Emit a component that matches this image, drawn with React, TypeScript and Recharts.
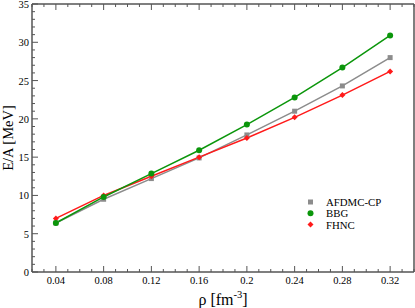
import React from 'react';
import { LineChart, Line, XAxis, YAxis, Legend } from 'recharts';

// density points (fm^-3) and energy per nucleon (MeV)
const density = [0.04, 0.08, 0.12, 0.16, 0.2, 0.24, 0.28, 0.32];
const afdmcCP = [6.4, 9.5, 12.2, 14.9, 17.9, 21.0, 24.3, 28.0];
const bbg = [6.4, 9.8, 12.85, 15.9, 19.25, 22.8, 26.7, 30.9];
const fhnc = [7.0, 10.0, 12.5, 15.0, 17.5, 20.2, 23.1, 26.2];

const xTicks = [
  0.02, 0.03, 0.04, 0.05, 0.06, 0.07, 0.08, 0.09, 0.1, 0.11, 0.12, 0.13, 0.14, 0.15, 0.16, 0.17, 0.18,
  0.19, 0.2, 0.21, 0.22, 0.23, 0.24, 0.25, 0.26, 0.27, 0.28, 0.29, 0.3, 0.31, 0.32, 0.33, 0.34,
];
const yTicks = [
  0, 1, 2, 3, 4, 5, 6, 7, 8, 9, 10, 11, 12, 13, 14, 15, 16, 17, 18, 19, 20, 21, 22, 23, 24, 25, 26,
  27, 28, 29, 30, 31, 32, 33, 34, 35,
];

const rows = density.map((rho, i) => ({ rho, afdmc: afdmcCP[i], bbg: bbg[i], fhnc: fhnc[i] }));

const AXIS = '#555';
const FONT = '"Liberation Serif", "DejaVu Serif", serif';
const GRAY = '#8c8c8c';
const GREEN = '#0b960b';
const RED = '#ff1a1a';

const isMajorX = (v: number) => Math.round(v * 100) % 4 === 0;
const isMajorY = (v: number) => v % 5 === 0;

const BottomTick = (p: any) => {
  const v = p.payload.value;
  const major = isMajorX(v);
  return (
    <g>
      <line x1={p.x} x2={p.x} y1={p.y} y2={p.y - (major ? 6 : 3)} stroke={AXIS} strokeWidth={1} />
      {major && (
        <text x={p.x} y={p.y + 12} textAnchor="middle" style={{ fontSize: 10.5, fontFamily: FONT }} fill="#000">
          {String(v)}
        </text>
      )}
    </g>
  );
};

const TopTick = (p: any) => {
  const major = isMajorX(p.payload.value);
  return <line x1={p.x} x2={p.x} y1={p.y} y2={p.y + (major ? 6 : 3)} stroke={AXIS} strokeWidth={1} />;
};

const LeftTick = (p: any) => {
  const v = p.payload.value;
  const major = isMajorY(v);
  return (
    <g>
      <line x1={p.x} x2={p.x + (major ? 6 : 3)} y1={p.y} y2={p.y} stroke={AXIS} strokeWidth={1} />
      {major && (
        <text x={p.x - 3} y={p.y + 4} textAnchor="end" style={{ fontSize: 10.5, fontFamily: FONT }} fill="#000">
          {v}
        </text>
      )}
    </g>
  );
};

const RightTick = (p: any) => {
  const major = isMajorY(p.payload.value);
  return <line x1={p.x} x2={p.x - (major ? 6 : 3)} y1={p.y} y2={p.y} stroke={AXIS} strokeWidth={1} />;
};

const SquareDot = (p: any) => <rect key={p.index} x={p.cx - 2.5} y={p.cy - 2.5} width={5} height={5} fill={GRAY} />;
const CircleDot = (p: any) => <circle key={p.index} cx={p.cx} cy={p.cy} r={3} fill={GREEN} />;
const DiamondDot = (p: any) => (
  <path key={p.index} d={`M${p.cx},${p.cy - 3}L${p.cx + 3},${p.cy}L${p.cx},${p.cy + 3}L${p.cx - 3},${p.cy}Z`} fill={RED} />
);

const legendItems = [
  { name: 'AFDMC-CP', color: GRAY, shape: 'square' },
  { name: 'BBG', color: GREEN, shape: 'circle' },
  { name: 'FHNC', color: RED, shape: 'diamond' },
];

const renderLegend = () => (
  <svg width={110} height={40}>
    {legendItems.map((it, i) => {
      const cy = 6 + i * 11.3;
      return (
        <g key={it.name}>
          {it.shape === 'square' && <rect x={9} y={cy - 2.5} width={5} height={5} fill={it.color} />}
          {it.shape === 'circle' && <circle cx={11.5} cy={cy} r={3} fill={it.color} />}
          {it.shape === 'diamond' && (
            <path d={`M11.5,${cy - 3}L14.5,${cy}L11.5,${cy + 3}L8.5,${cy}Z`} fill={it.color} />
          )}
          <text x={27} y={cy + 4} style={{ fontSize: 10.8, fontFamily: FONT }} fill="#000">
            {it.name}
          </text>
        </g>
      );
    })}
  </svg>
);

const XLabel = (props: any) => {
  const vb = props.viewBox || { x: 32, width: 382 };
  return (
    <text x={vb.x + vb.width / 2} y={305} textAnchor="middle" style={{ fontSize: 16, fontFamily: FONT }} fill="#000">
      ρ [fm
      <tspan dy={-7} style={{ fontSize: 10.5 }}>-3</tspan>
      <tspan dy={7}>]</tspan>
    </text>
  );
};

export default function App() {
  return (
    <div style={{ position: 'absolute', left: 0, top: 0, width: 415, height: 308, background: '#fff', fontFamily: FONT }}>
      <LineChart width={415} height={308} data={rows} margin={{ top: 0, right: 0, bottom: 0, left: 0 }}>
        <XAxis
          xAxisId="bottom"
          dataKey="rho"
          type="number"
          domain={[0.02, 0.34]}
          ticks={xTicks}
          interval={0}
          height={36}
          tickSize={0}
          tickMargin={0}
          tick={BottomTick}
          axisLine={{ stroke: AXIS, strokeWidth: 1.5 }}
          tickLine={false}
          label={{ content: XLabel }}
        />
        <XAxis
          xAxisId="top"
          orientation="top"
          dataKey="rho"
          type="number"
          domain={[0.02, 0.34]}
          ticks={xTicks}
          interval={0}
          height={4}
          tickSize={0}
          tickMargin={0}
          tick={TopTick}
          axisLine={{ stroke: AXIS, strokeWidth: 1.5 }}
          tickLine={false}
        />
        <YAxis
          yAxisId="left"
          type="number"
          domain={[0, 35]}
          ticks={yTicks}
          interval={0}
          width={32}
          tickSize={0}
          tickMargin={0}
          tick={LeftTick}
          axisLine={{ stroke: AXIS, strokeWidth: 1.5 }}
          tickLine={false}
          label={{
            value: 'E/A [MeV]',
            angle: -90,
            position: 'center',
            dx: -8,
            style: { fontSize: 14.5, fontFamily: FONT, fill: '#000' },
          }}
        />
        <YAxis
          yAxisId="right"
          orientation="right"
          type="number"
          domain={[0, 35]}
          ticks={yTicks}
          interval={0}
          width={1}
          tickSize={0}
          tickMargin={0}
          tick={RightTick}
          axisLine={{ stroke: AXIS, strokeWidth: 1.5 }}
          tickLine={false}
        />
        <Legend
          layout="vertical"
          align="center"
          verticalAlign="middle"
          content={renderLegend}
          wrapperStyle={{ left: 299, top: 196, width: 110, height: 40 }}
        />
        <Line
          xAxisId="bottom"
          yAxisId="left"
          dataKey="afdmc"
          stroke={GRAY}
          strokeWidth={1.5}
          dot={SquareDot}
          isAnimationActive={false}
        />
        <Line
          xAxisId="bottom"
          yAxisId="left"
          dataKey="fhnc"
          stroke={RED}
          strokeWidth={1.5}
          dot={DiamondDot}
          isAnimationActive={false}
        />
        <Line
          xAxisId="bottom"
          yAxisId="left"
          dataKey="bbg"
          stroke={GREEN}
          strokeWidth={1.5}
          dot={CircleDot}
          isAnimationActive={false}
        />
      </LineChart>
    </div>
  );
}
